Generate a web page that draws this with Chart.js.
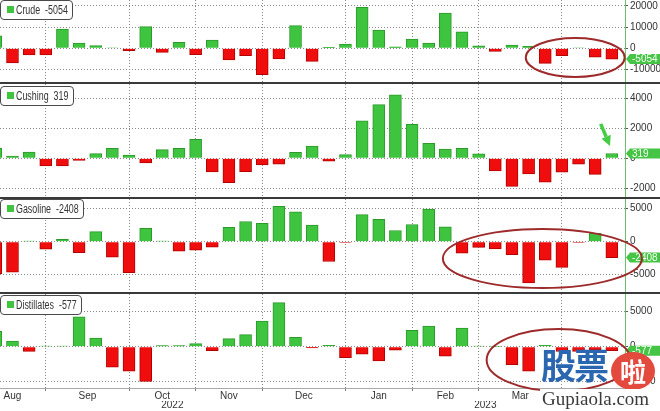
<!DOCTYPE html>
<html lang="en">
<head>
<meta charset="UTF-8">
<title>Crude, Cushing, Gasoline, Distillates weekly changes</title>
<script src="https://cdn.jsdelivr.net/npm/chart.js@4.4.0/dist/chart.umd.min.js"></script>
<style>
  body { margin: 0; background: #fff; }
  #wrap { position: relative; width: 660px; height: 411px; overflow: hidden;
          font-family: 'Liberation Sans', Arial, sans-serif; }
  canvas { position: absolute; left: 0; }
  .sep { position: absolute; left: 0; width: 660px; height: 2px; background: #3a3a3a; }
  .legend { position: absolute; left: 0; height: 20px; box-sizing: border-box;
            border: 1px solid #4a4a4a; border-radius: 4px; background: #fff; }
  .legend i { position: absolute; left: 6px; top: 5px; width: 7px; height: 7px; background: #3ec43e; }
  .legend span { position: absolute; left: 15px; top: 0; font-size: 12px; line-height: 18px; color: #333;
                 white-space: pre; transform: scaleX(0.74); transform-origin: 0 50%; }
  .wm-cn { position: absolute; left: 541px; top: 342px; font: bold 35px 'Noto Sans CJK SC', sans-serif;
           color: #2b66b1; letter-spacing: -2px; line-height: 44px; }
  .wm-la { position: absolute; left: 611px; top: 352px; width: 44px; height: 38px; border-radius: 50%;
           background: #e3493c; color: #fff; font: bold 26px 'Noto Sans CJK SC', sans-serif;
           text-align: center; line-height: 38px; }
  .wm-en { position: absolute; left: 540px; top: 389px; padding: 0 2px; background: #fff;
           font: 19px 'Liberation Serif', serif; color: #3a3a3a; line-height: 20px; }
</style>
</head>
<body>
<div id="wrap">
  <canvas id="cCrude" width="660" height="82" style="top:0"></canvas>
  <div class="sep" style="top:82px"></div>
  <canvas id="cCushing" width="660" height="113" style="top:84px"></canvas>
  <div class="sep" style="top:197px"></div>
  <canvas id="cGasoline" width="660" height="93" style="top:199px"></canvas>
  <div class="sep" style="top:292px"></div>
  <canvas id="cDistillates" width="660" height="117" style="top:294px"></canvas>
  <div class="wm-cn">股票</div>
  <div class="wm-la">啦</div>
  <div class="wm-en">Gupiaola.com</div>
</div>
<script>
// weekly changes (thousand barrels), Aug 2022 .. Apr 2023
const crude = [5900, -6850, -3100, -3100, 9100, 2500, 1250, 300, -1100, 10200,
               -1900, 2800, -3000, 3900, -5450, -3400, -12400, -5000, 10700, -6100,
               500, 2000, 19200, 8600, 700, 4400, 2500, 16600, 7800, 1200,
               -1400, 1500, 900, -7050, -3450, 300, -4200, -5054];
const cushing = [670, 150, 420, -510, -510, -150, 310, 670, 220, -310,
                 580, 670, 1270, -910, -1620, -890, -440, -400, 400, 820,
                 -200, 240, 2490, 3580, 4220, 2270, 1000, 620, 670, 290,
                 -840, -1870, -1040, -1600, -930, -400, -1070, 319];
const gasoline = [-4850, -4600, 100, -1120, 360, -1680, 1530, -2350, -4700, 2040,
                  100, -1430, -1280, -820, 2190, 3060, 2800, 5360, 4540, 2500,
                  -3000, -100, 4100, 3400, 1700, 2600, 4950, 2250, -1750, -850,
                  -1100, -1950, -6250, -2800, -3900, -100, 1250, -2408];
const distillates = [2200, 820, -670, 100, 100, 4280, 1250, -2930, -3510, -4950,
                     150, 150, 430, -580, 1150, 1730, 3650, 6300, 1350, -190,
                     200, -1550, -1070, -2040, -490, 2330, 2960, -1360, 2650, 100,
                     50, -2570, -3500, 200, -680, -680, -480, -577];
const weekIndex = crude.map((_, i) => i);

// x axis: first week of each month (grid), month / year labels
const monthStarts = [3, 8, 12, 16, 21, 25, 29, 34];
const monthTicks = [1, 5.5, 10, 14, 18.5, 23, 27, 31.5, 36.2];
const monthLabels = ['Aug', 'Sep', 'Oct', 'Nov', 'Dec', 'Jan', 'Feb', 'Mar', 'Apr'];
const yearTicks = [10.6, 29.4];
const yearLabels = ['2022', '2023'];

// y axis ticks per panel
const crudeTicks = [-10000, 0, 10000, 20000];
const cushingTicks = [-2000, 0, 2000, 4000];
const gasolineTicks = [-5000, 0, 5000];
const distillatesTicks = [-5000, 0, 5000];

const GREEN = '#3ec43e', GREEN_B = '#2b9a2b';
const RED = '#f00d0d', RED_B = '#b30000';
const GRID = '#888888';
const FONT = "'Liberation Sans', Arial, sans-serif";
const X_MIN = 0.25, X_MAX = 37.79;

function makeOverlay(values, extra) {
  return {
    id: 'overlay',
    afterDraw(chart) {
      const ctx = chart.ctx;
      const xs = chart.scales.x, ys = chart.scales.y;
      const last = values[values.length - 1];
      ctx.save();
      // last value tag on the axis
      const py = ys.getPixelForValue(last);
      const px = chart.chartArea.right;
      ctx.fillStyle = '#45c445';
      ctx.beginPath();
      ctx.moveTo(px + 1, py);
      ctx.lineTo(px + 5, py - 5);
      ctx.lineTo(chart.width, py - 5);
      ctx.lineTo(chart.width, py + 5);
      ctx.lineTo(px + 5, py + 5);
      ctx.closePath();
      ctx.fill();
      ctx.fillStyle = '#f4fff4';
      ctx.font = '10px ' + FONT;
      ctx.textBaseline = 'middle';
      ctx.fillText(String(last), px + 7, py + 0.5);
      // red ellipse
      if (extra.ellipse) {
        const e = extra.ellipse;
        const cx = xs.getPixelForValue(e.x), cy = ys.getPixelForValue(e.y);
        const rx = xs.getPixelForValue(e.x + e.rx) - cx;
        const ry = cy - ys.getPixelForValue(e.y + e.ry);
        ctx.strokeStyle = '#9e2b2b';
        ctx.lineWidth = 2;
        ctx.beginPath();
        ctx.ellipse(cx, cy, rx, ry, 0, 0, Math.PI * 2);
        ctx.stroke();
      }
      // green arrow
      if (extra.arrow) {
        const a = extra.arrow;
        const x0 = xs.getPixelForValue(a.x0), y0 = ys.getPixelForValue(a.y0);
        const x1 = xs.getPixelForValue(a.x1), y1 = ys.getPixelForValue(a.y1);
        const ang = Math.atan2(y1 - y0, x1 - x0);
        const head = 10, hw = 5;
        const bx = x1 - head * Math.cos(ang), by = y1 - head * Math.sin(ang);
        ctx.strokeStyle = '#44cc44';
        ctx.fillStyle = '#44cc44';
        ctx.lineWidth = 3.5;
        ctx.beginPath();
        ctx.moveTo(x0, y0);
        ctx.lineTo(bx, by);
        ctx.stroke();
        ctx.beginPath();
        ctx.moveTo(x1, y1);
        ctx.lineTo(bx + hw * Math.sin(ang), by - hw * Math.cos(ang));
        ctx.lineTo(bx - hw * Math.sin(ang), by + hw * Math.cos(ang));
        ctx.closePath();
        ctx.fill();
      }
      ctx.restore();
    }
  };
}

function makePanel(id, name, values, yTicks, yMin, yMax, extra) {
  const bottom = !!extra.bottom;
  const scales = {
    x: {
      type: 'linear', position: 'bottom', min: X_MIN, max: X_MAX, weight: 0, offset: false,
      afterBuildTicks: s => { s.ticks = monthStarts.map(v => ({ value: v })); },
      afterFit: s => { s.height = bottom ? 3 : 0; s.paddingLeft = 0; s.paddingRight = 0; },
      grid: { offset: false, color: GRID, drawTicks: bottom, tickLength: 3, tickColor: '#777' },
      border: { display: bottom, color: '#aaa', dash: [1, 2] },
      ticks: { display: false }
    },
    y: {
      position: 'right', min: yMin, max: yMax,
      afterBuildTicks: s => { s.ticks = yTicks.map(v => ({ value: v })); },
      afterFit: s => { s.width = 35; s.paddingTop = 0; s.paddingBottom = 0; },
      grid: { color: GRID, tickLength: 3, tickColor: '#555' },
      border: { display: true, color: '#6cbf6c', width: 1, dash: [1, 2] },
      ticks: { padding: 2, color: '#333', font: { size: 10, family: FONT }, callback: v => String(v) }
    }
  };
  if (bottom) {
    scales.xm = {
      type: 'linear', axis: 'x', position: 'bottom', min: X_MIN, max: X_MAX, weight: 1, offset: false,
      afterBuildTicks: s => { s.ticks = monthTicks.map(v => ({ value: v })); },
      afterFit: s => { s.height = 10; s.paddingLeft = 0; s.paddingRight = 0; },
      grid: { display: false, drawTicks: false, offset: false },
      border: { display: false },
      ticks: { autoSkip: false, maxRotation: 0, padding: -1, color: '#333',
               font: { size: 10, family: FONT }, callback: (v, i) => monthLabels[i] }
    };
    scales.xy = {
      type: 'linear', axis: 'x', position: 'bottom', min: X_MIN, max: X_MAX, weight: 2, offset: false,
      afterBuildTicks: s => { s.ticks = yearTicks.map(v => ({ value: v })); },
      afterFit: s => { s.height = 10; s.paddingLeft = 0; s.paddingRight = 0; },
      grid: { display: false, drawTicks: false, offset: false },
      border: { display: false },
      ticks: { autoSkip: false, maxRotation: 0, padding: -2, color: '#333',
               font: { size: 10, family: FONT }, callback: (v, i) => yearLabels[i] }
    };
  }
  const chart = new Chart(document.getElementById(id), {
    type: 'bar',
    data: {
      datasets: [{
        label: name,
        data: values.map((v, i) => ({ x: weekIndex[i], y: v })),
        backgroundColor: values.map(v => v >= 0 ? GREEN : RED),
        borderColor: values.map(v => v >= 0 ? GREEN_B : RED_B),
        borderWidth: 1,
        barThickness: 12,
        clip: 0
      }]
    },
    options: {
      responsive: false,
      animation: false,
      layout: { padding: 0, autoPadding: false },
      plugins: { legend: { display: false }, tooltip: { enabled: false } },
      scales
    },
    plugins: [makeOverlay(values, extra)]
  });

  // legend box in the top-left corner of the panel
  const canvas = document.getElementById(id);
  const box = document.createElement('div');
  box.className = 'legend';
  box.style.top = (parseInt(canvas.style.top, 10) + (extra.legendTop || 0)) + 'px';
  const label = document.createElement('span');
  label.textContent = name + '  ' + values[values.length - 1];
  box.appendChild(document.createElement('i'));
  box.appendChild(label);
  document.getElementById('wrap').appendChild(box);
  box.style.width = Math.round(15 + label.offsetWidth * 0.74 + 6) + 'px';
  return chart;
}

makePanel('cCrude', 'Crude', crude, crudeTicks, -15800, 22700, {
  ellipse: { x: 34.8, y: -4300, rx: 2.97, ry: 9150 }
});
makePanel('cCushing', 'Cushing', cushing, cushingTicks, -2580, 4950, {
  legendTop: 2,
  arrow: { x0: 36.33, y0: 2290, x1: 36.89, y1: 820 }
});
makePanel('cGasoline', 'Gasoline', gasoline, gasolineTicks, -7620, 6470, {
  ellipse: { x: 32.83, y: -2545, rx: 5.98, ry: 4470 }
});
makePanel('cDistillates', 'Distillates', distillates, distillatesTicks, -5900, 7530, {
  bottom: true, legendTop: 1,
  ellipse: { x: 33.8, y: -1900, rx: 4.32, ry: 4430 }
});
</script>
</body>
</html>
